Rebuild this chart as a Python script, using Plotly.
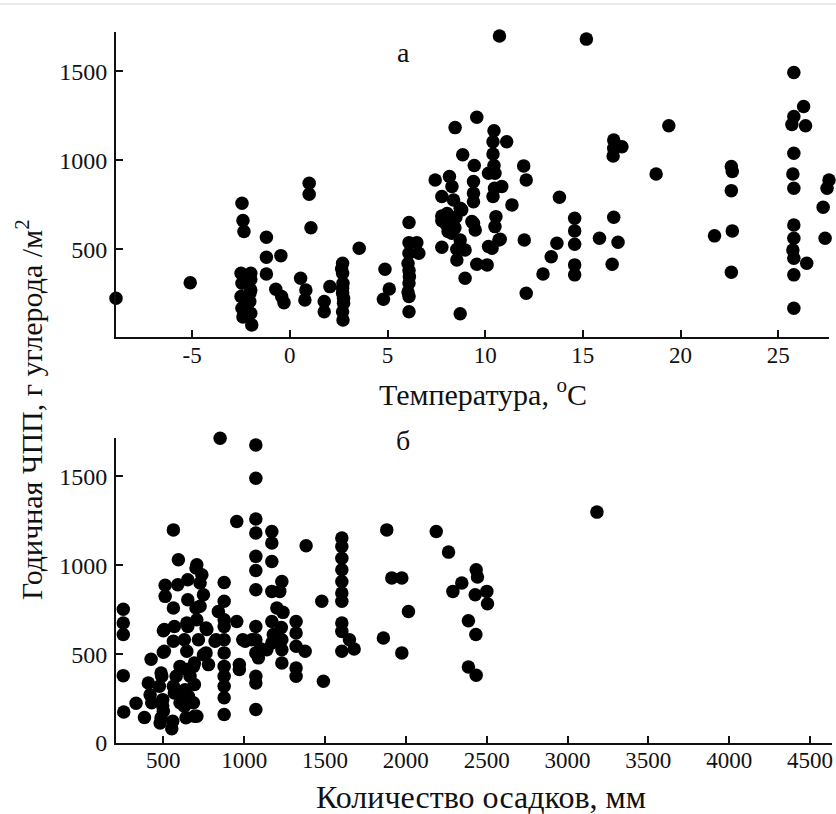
import plotly.graph_objects as go

# ---- Panel a: temperature vs annual NPP ----
temperature = [
    -8.9, -5.1,
    -2.45, -2.4, -2.35, -2.5, -2.45, -2.5, -2.45, -2.4,
    -2.0, -2.0, -2.05, -2.0, -1.95, -2.05, -2.0,
    -1.2, -1.2, -1.2, -0.46, -0.72, -0.42, -0.3,
    0.99, 0.99, 1.08, 0.55, 0.82, 0.77, 2.05, 1.76, 1.76,
    2.7, 2.7, 2.72, 2.7, 2.75, 2.7, 2.72, 2.65, 2.7, 2.75,
    3.55, 4.87, 5.09, 4.79,
    6.1, 6.1, 6.1, 6.05, 6.1, 6.12, 6.1, 6.05, 6.1, 6.1, 6.5, 6.6,
    7.44, 7.78, 7.78, 7.78, 7.78, 8.46, 8.85, 8.17, 8.3, 8.38,
    8.72, 8.72, 8.72, 8.8, 8.29, 8.55, 8.97, 8.97, 8.0, 8.05, 8.1, 8.5, 8.45, 8.55,
    9.57, 9.57, 9.44, 9.4, 9.4, 9.4, 9.4, 9.32, 9.49, 10.1,
    10.45, 10.4, 10.4, 10.45, 10.5, 10.48, 10.4, 10.55, 10.5, 10.7, 10.35,
    11.1, 10.85, 11.37, 10.17, 10.17, 10.77, 10.73,
    11.97, 12.1, 12.1, 12.0, 12.96, 13.38, 13.67, 13.8,
    14.58, 14.58, 14.58, 14.58, 14.58, 15.18, 15.85,
    16.58, 16.58, 16.55, 16.58, 16.5, 16.8, 17.0, 18.75, 19.4, 21.74,
    22.6, 22.65, 22.6, 22.65, 22.6,
    25.8, 25.8, 25.7, 25.8, 25.75, 25.8, 25.8, 25.8, 25.75, 25.8, 25.8, 25.8,
    26.3, 26.4, 26.46, 27.6, 27.5, 27.3, 27.4,
]
npp_temperature = [
    225, 312,
    758, 661, 599, 365, 309, 234, 169, 120,
    365, 271, 206, 140, 75, 250, 330,
    567, 455, 361, 464, 275, 234, 200,
    871, 809, 621, 337, 271, 215, 290, 206, 149,
    421, 365, 309, 253, 197, 149, 103, 390, 280, 225,
    506, 388, 277, 219,
    650, 537, 477, 420, 380, 346, 310, 260, 234, 149, 537, 477,
    889, 796, 687, 660, 511, 1183, 1030, 908, 852, 777,
    730, 552, 137, 721, 590, 440, 496, 337, 640, 700, 600, 680, 620, 500,
    1241, 416, 970, 880, 815, 767, 646, 655, 608, 412,
    1165, 1104, 1035, 970, 927, 843, 796, 683, 627, 552, 506,
    1104, 852, 749, 927, 515, 556, 1698,
    968, 889, 253, 552, 361, 458, 534, 792,
    674, 603, 528, 412, 356, 1680, 562,
    1114, 1067, 1024, 680, 416, 539, 1076, 923, 1193, 575,
    964, 936, 829, 603, 371,
    1492, 1245, 1200, 1039, 923, 843, 636, 562, 496, 449, 356, 169,
    1301, 1193, 421, 889, 843, 736, 562,
]

# ---- Panel б: precipitation vs annual NPP ----
precipitation = [
    252, 252, 252, 252, 255,
    331, 383, 424, 407, 418, 428,
    486, 500, 480, 552, 558,
    511, 511, 500, 500, 490, 475, 496, 496,
    562, 593, 589, 562, 568, 562,
    645, 603, 579, 562, 568, 634, 603, 630, 630, 640,
    707, 692, 686, 692, 692,
    707, 738, 727, 748, 727, 707, 769, 717, 748, 779, 686, 665, 645, 645, 655,
    506, 486, 506, 651, 651, 702, 702, 764, 764, 630, 651, 826,
    876, 876, 876, 876, 876, 876, 876, 876, 876, 876, 876,
    840, 820, 851, 954, 954, 970, 970, 1006, 991,
    1072, 1072, 1072, 1072, 1072, 1072, 1072, 1072, 1072, 1072, 1072, 1072, 1072,
    1047, 1088, 1100,
    1171, 1171, 1171, 1171, 1171, 1171,
    1233, 1220, 1202, 1240, 1230, 1233, 1233, 1233, 1140, 1180,
    1321, 1321, 1321, 1321, 1321,
    1377, 1383, 1480, 1490,
    1604, 1604, 1604, 1604, 1604, 1604, 1604, 1604, 1604, 1604,
    1651, 1680,
    1882, 1861, 1913, 1975, 1975, 2016,
    2188, 2264, 2346, 2291, 2435, 2443, 2429, 2501, 2505, 2387, 2433, 2387, 2435,
    3182,
]
npp_precipitation = [
    752, 675, 610, 379, 175,
    224, 143, 471, 338, 272, 226,
    142, 179, 113, 80, 122,
    887, 825, 632, 510, 375, 319, 244, 208,
    1199, 1031, 890, 760, 656, 572,
    516, 431, 375, 319, 282, 300, 226, 244, 207, 142,
    151, 151, 226, 329, 450,
    1003, 947, 900, 834, 769, 694, 638, 581, 497, 441, 431, 375, 675, 413, 263,
    516, 394, 638, 806, 918, 984, 760, 647, 507, 581, 656, 581,
    903, 797, 694, 656, 581, 507, 431, 375, 319, 254, 160,
    740, 572, 1715, 1246, 684, 441, 413, 572, 581,
    1677, 1490, 1260, 1181, 1050, 971, 862, 656, 581, 507, 375, 338, 188,
    581, 479, 530,
    1190, 1125, 1021, 853, 684, 563,
    909, 853, 760, 735, 650, 581, 525, 450, 525, 610,
    684, 619, 544, 422, 375,
    516, 1110, 797, 347,
    1153, 1106, 1040, 975, 909, 844, 797, 675, 628, 516,
    581, 529,
    1199, 591, 928, 928, 507, 740,
    1190, 1074, 900, 853, 975, 934, 834, 853, 784, 688, 610, 428, 381,
    1299,
]

temp_ticks = [-5, 0, 5, 10, 15, 20, 25]
temp_ticktext = ["-5", "0", "5", "10", "15", "20", "25"]
precip_ticks = [500, 1000, 1500, 2000, 2500, 3000, 3500, 4000, 4500]
npp_ticks_a = [500, 1000, 1500]
npp_ticks_b = [0, 500, 1000, 1500]

FONT = "Liberation Serif"
W, H = 836, 814
L, T = 116, 32
R = W - 832
B = H - 743
PW, PH = W - L - R, H - T - B


def px_x(p):
    return (p - L) / PW


def px_y(p):
    return (H - B - p) / PH


fig = go.Figure()
marker = dict(color="black", size=13.5, line=dict(width=0))
fig.add_trace(go.Scatter(x=temperature, y=npp_temperature, mode="markers",
                         marker=marker, cliponaxis=False, xaxis="x", yaxis="y"))
fig.add_trace(go.Scatter(x=precipitation, y=npp_precipitation, mode="markers",
                         marker=marker, cliponaxis=False, xaxis="x2", yaxis="y2"))

axis_common = dict(showline=True, linecolor="#111", linewidth=2, ticks="inside",
                   ticklen=7, tickwidth=1.5, tickcolor="#111", showgrid=False,
                   zeroline=False)
xfont = dict(family=FONT, size=23, color="#111")
yfont = dict(family=FONT, size=24, color="#111")

fig.update_layout(
    width=W, height=H,
    margin=dict(l=L, r=R, t=T, b=B),
    paper_bgcolor="white", plot_bgcolor="white",
    showlegend=False,
    xaxis=dict(domain=[0, px_x(829)], range=[-8.9, 27.6], tickvals=temp_ticks,
               ticktext=temp_ticktext, anchor="y", ticklabelstandoff=-4,
               tickfont=xfont, **axis_common),
    yaxis=dict(domain=[px_y(337), 1], range=[7, 1720], tickvals=npp_ticks_a,
               anchor="x", ticklabelstandoff=2, tickfont=yfont, **axis_common),
    xaxis2=dict(domain=[0, 1], range=[207, 4636], tickvals=precip_ticks,
                anchor="y2", ticklabelstandoff=-5, tickfont=xfont, **axis_common),
    yaxis2=dict(domain=[0, px_y(438)], range=[0, 1716], tickvals=npp_ticks_b,
                anchor="x2", ticklabelstandoff=2, tickfont=yfont, **axis_common),
)


def label(text, x, y, size, angle=0):
    fig.add_annotation(text=text, x=px_x(x), y=px_y(y), xref="paper", yref="paper",
                       xanchor="center", yanchor="middle", showarrow=False,
                       textangle=angle, font=dict(family=FONT, size=size, color="#111"))


label("а", 403, 53, 28)
label("б", 403, 441, 28)
label("Температура, <sup>o</sup>C", 483, 392, 30)
label("Количество осадков, мм", 481, 797, 32)
label("Годичная ЧПП, г углерода /м<sup>2</sup>", 29, 410, 30, angle=-90)

fig.add_shape(type="line", xref="paper", yref="paper", x0=-0.2, x1=1.2,
              y0=px_y(4), y1=px_y(4), line=dict(color="#d4d4d4", width=1))

fig.write_html(
    "out.html",
    config={"displayModeBar": False},
    post_script="document.body.style.margin='0px';"
                "document.body.style.overflow='hidden';",
)
